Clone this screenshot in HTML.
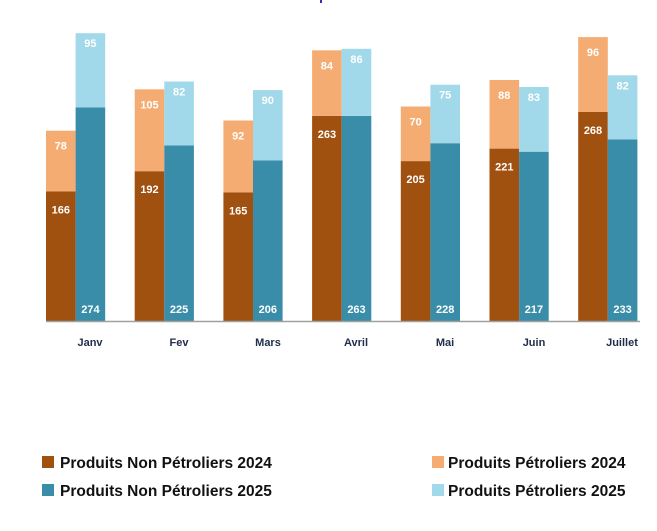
<!DOCTYPE html>
<html><head><meta charset="utf-8"><style>
body{margin:0;background:#fff;}
svg{display:block;font-family:"Liberation Sans",sans-serif;font-weight:bold;}
</style></head><body>
<svg width="657" height="531" viewBox="0 0 657 531" xmlns="http://www.w3.org/2000/svg">
<rect x="320" y="0" width="2" height="3" fill="#3030c0"/>
<g>
<rect x="46" y="191.5" width="29.6" height="129.5" fill="#a0500f"/><rect x="46" y="130.7" width="29.6" height="60.8" fill="#f4ac72"/><rect x="75.6" y="107.3" width="29.6" height="213.7" fill="#3a8da8"/><rect x="75.6" y="33.2" width="29.6" height="74.1" fill="#a2d9ea"/>
<rect x="134.7" y="171.2" width="29.6" height="149.8" fill="#a0500f"/><rect x="134.7" y="89.3" width="29.6" height="81.9" fill="#f4ac72"/><rect x="164.3" y="145.5" width="29.6" height="175.5" fill="#3a8da8"/><rect x="164.3" y="81.5" width="29.6" height="64" fill="#a2d9ea"/>
<rect x="223.4" y="192.3" width="29.6" height="128.7" fill="#a0500f"/><rect x="223.4" y="120.5" width="29.6" height="71.8" fill="#f4ac72"/><rect x="253" y="160.3" width="29.6" height="160.7" fill="#3a8da8"/><rect x="253" y="90.1" width="29.6" height="70.2" fill="#a2d9ea"/>
<rect x="312.1" y="115.9" width="29.6" height="205.1" fill="#a0500f"/><rect x="312.1" y="50.3" width="29.6" height="65.6" fill="#f4ac72"/><rect x="341.7" y="115.9" width="29.6" height="205.1" fill="#3a8da8"/><rect x="341.7" y="48.8" width="29.6" height="67.1" fill="#a2d9ea"/>
<rect x="400.8" y="161.1" width="29.6" height="159.9" fill="#a0500f"/><rect x="400.8" y="106.5" width="29.6" height="54.6" fill="#f4ac72"/><rect x="430.4" y="143.2" width="29.6" height="177.8" fill="#3a8da8"/><rect x="430.4" y="84.7" width="29.6" height="58.5" fill="#a2d9ea"/>
<rect x="489.5" y="148.6" width="29.6" height="172.4" fill="#a0500f"/><rect x="489.5" y="80" width="29.6" height="68.6" fill="#f4ac72"/><rect x="519.1" y="151.7" width="29.6" height="169.3" fill="#3a8da8"/><rect x="519.1" y="87" width="29.6" height="64.7" fill="#a2d9ea"/>
<rect x="578.2" y="112" width="29.6" height="209" fill="#a0500f"/><rect x="578.2" y="37.1" width="29.6" height="74.9" fill="#f4ac72"/><rect x="607.8" y="139.3" width="29.6" height="181.7" fill="#3a8da8"/><rect x="607.8" y="75.3" width="29.6" height="64" fill="#a2d9ea"/>
</g>
<g font-size="11" fill="#fff" text-anchor="middle">
<text x="60.8" y="213.5">166</text><text x="60.8" y="149.7">78</text><text x="90.4" y="313">274</text><text x="90.4" y="47.2">95</text>
<text x="149.5" y="193.2">192</text><text x="149.5" y="108.3">105</text><text x="179.1" y="313">225</text><text x="179.1" y="95.5">82</text>
<text x="238.2" y="214.3">165</text><text x="238.2" y="139.5">92</text><text x="267.8" y="313">206</text><text x="267.8" y="104.1">90</text>
<text x="326.9" y="137.9">263</text><text x="326.9" y="69.3">84</text><text x="356.5" y="313">263</text><text x="356.5" y="62.8">86</text>
<text x="415.6" y="183.1">205</text><text x="415.6" y="125.5">70</text><text x="445.2" y="313">228</text><text x="445.2" y="98.7">75</text>
<text x="504.3" y="170.6">221</text><text x="504.3" y="99">88</text><text x="533.9" y="313">217</text><text x="533.9" y="101">83</text>
<text x="593" y="134">268</text><text x="593" y="56.1">96</text><text x="622.6" y="313">233</text><text x="622.6" y="89.3">82</text>
</g>
<line x1="46" y1="321.5" x2="640" y2="321.5" stroke="#a0a0a0" stroke-width="1.5"/>
<g font-size="11" fill="#1f2d4a" text-anchor="middle">
<text x="90" y="346">Janv</text><text x="179" y="346">Fev</text><text x="268" y="346">Mars</text><text x="356" y="346">Avril</text><text x="445" y="346">Mai</text><text x="534" y="346">Juin</text><text x="622" y="346">Juillet</text>
</g>
<g font-size="15.5" fill="#111">
<rect x="42" y="456" width="12" height="12" fill="#a0500f"/><text x="60" y="468">Produits Non Pétroliers 2024</text>
<rect x="42" y="484" width="12" height="12" fill="#3a8da8"/><text x="60" y="496">Produits Non Pétroliers 2025</text>
<rect x="432" y="456" width="12" height="12" fill="#f4ac72"/><text x="448" y="468">Produits Pétroliers 2024</text>
<rect x="432" y="484" width="12" height="12" fill="#a2d9ea"/><text x="448" y="496">Produits Pétroliers 2025</text>
</g>
</svg>
</body></html>
